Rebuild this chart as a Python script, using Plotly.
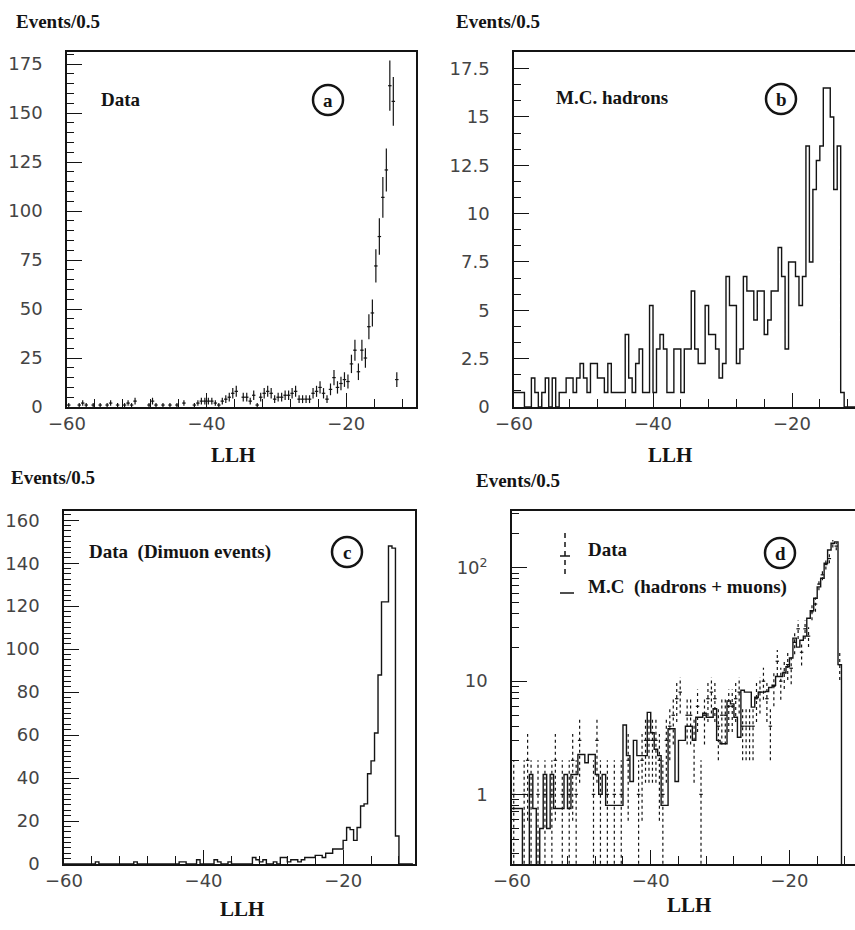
import numpy as np
import plotly.graph_objects as go

# ---------------- data (bins of 0.5 in LLH, from -60 to -10) ----------------
BIN_LO = -60.0
BIN_W = 0.5
N_BINS = 100

# (a) Data: events per bin
data_counts = [
    1, 0, 0, 1, 2, 1, 0, 1, 0, 1,
    0, 1, 2, 0, 1, 0, 1, 2, 1, 3,
    0, 0, 0, 1, 3, 1, 0, 1, 0, 1,
    0, 1, 0, 2, 0, 0, 1, 2, 3, 3,
    3, 3, 2, 1, 3, 4, 5, 7, 8, 0,
    5, 5, 3, 6, 1, 5, 7, 8, 7, 4,
    5, 5, 6, 6, 7, 8, 4, 4, 4, 4,
    7, 8, 10, 7, 4, 9, 15, 10, 12, 14,
    13, 22, 29, 18, 29, 25, 41, 48, 72, 87,
    107, 121, 164, 156, 14, 0, 0, 0, 0, 0,
]

# (b) M.C. hadrons
mc_hadrons = [
    0.75, 0.75, 0.75, 0, 0, 1.5, 0.75, 0, 0.75, 1.5,
    0, 1.5, 0, 0.75, 0.75, 1.5, 1.5, 0.75, 1.5, 2.25,
    1.5, 0.75, 2.25, 2.25, 1.5, 1.5, 0.75, 2.25, 0.75, 0.75,
    0.75, 0.75, 3.75, 1.5, 0.75, 2.25, 3, 0.75, 0.75, 5.25,
    0.75, 3, 3.75, 3, 0.75, 0.75, 3, 3, 0.75, 3,
    3, 6, 3, 2.25, 2.25, 5.25, 3.75, 3.75, 3, 1.5,
    2.25, 6.75, 5.25, 5.25, 2.25, 3, 6.75, 6, 6, 4.5,
    6, 6, 3.75, 4.5, 6, 6, 8.25, 6.75, 3, 7.5,
    7.5, 6.75, 5.25, 6.75, 13.5, 7.5, 11.25, 12.75, 13.5, 16.5,
    16.5, 15, 11.25, 13.5, 0.75, 0, 0, 0, 0, 0,
]

# (c) Data (dimuon events)
dimuon_counts = [
    0, 0, 0, 0, 0, 0, 0, 0, 0, 1,
    0, 0, 0, 0, 0, 0, 0, 0, 0, 0,
    1, 0, 0, 0, 0, 0, 0, 0, 0, 0,
    0, 0, 0, 1, 1, 0, 0, 0, 2, 0,
    0, 0, 0, 2, 1, 0, 0, 1, 0, 0,
    0, 0, 0, 0, 3, 2, 1, 2, 0, 0,
    1, 0, 3, 3, 1, 2, 2, 1, 2, 3,
    3, 3, 4, 4, 3, 5, 5, 7, 7, 7,
    11, 17, 16, 11, 17, 27, 28, 42, 48, 61,
    88, 122, 122, 148, 147, 13, 0, 0, 0, 0,
]

# (d) M.C. (hadrons + muons)
mc_total = [
    0.75, 0.75, 0.75, 0, 0, 1.5, 0.75, 0, 0.5, 1.5,
    0.5, 1.5, 0.75, 0.75, 0.75, 1.5, 0.75, 1.5, 1.5, 2.25,
    2.25, 1.9, 2.25, 2.25, 1.5, 1.0, 1.5, 0.8, 0.8, 0.8,
    0.8, 0.8, 4.1, 2.2, 1.3, 3.0, 2.2, 2.2, 2.2, 5.3,
    3.5, 2.5, 2.2, 0.8, 0.8, 3.8, 3.8, 1.3, 3.0, 3.0,
    4.0, 4.0, 3.0, 4.8, 4.8, 5.2, 4.8, 4.8, 5.7, 3.0,
    2.8, 2.8, 6.7, 6.3, 4.8, 3.2, 8.3, 8.0, 8.0, 5.9,
    7.2, 8.0, 8.0, 8.1, 8.8, 9.2, 11, 11, 11.8, 13.4,
    16, 24, 20, 23, 25, 36, 42, 54, 68, 81,
    110, 144, 165, 170, 14, 0, 0, 0, 0, 0,
]

x_major = [-60, -40, -20]
ya_ticks = [0, 25, 50, 75, 100, 125, 150, 175]
yb_ticks = [0, 2.5, 5, 7.5, 10, 12.5, 15, 17.5]
yb_text = ["0", "2.5", "5", "7.5", "10", "12.5", "15", "17.5"]
yc_ticks = [0, 20, 40, 60, 80, 100, 120, 140, 160]
yd_ticks = [1, 10, 100]
yd_text = ["1", "10", "10<sup>2</sup>"]

# ---------------- derived arrays ----------------
edges = BIN_LO + BIN_W * np.arange(N_BINS + 1)
centers = edges[:-1] + BIN_W / 2

W, H = 855, 930
def px(x):
    return x / W
def py(y):
    return 1 - y / H

INK = "#141414"
TICKFONT = dict(family="DejaVu Sans, sans-serif", size=18, color="#444444")
SERIF = "Liberation Serif, Times New Roman, serif"

fig = go.Figure()

def step_trace(vals, xa, ya, floor=None):
    v = np.array(vals, dtype=float)
    if floor is not None:
        v = np.where(v > 0, v, floor)
    yv = np.concatenate([v, [v[-1]]])
    return go.Scatter(x=edges, y=yv, mode="lines", line=dict(color=INK, width=1.4, shape="hv"),
                      xaxis=xa, yaxis=ya, showlegend=False, hoverinfo="skip")

def data_points(counts, xa, ya, dashed=False, floor=None):
    c = np.array(counts, dtype=float)
    m = c > 0
    xs, ys = centers[m], c[m]
    err = np.sqrt(ys)
    traces = []
    if not dashed:
        traces.append(go.Scatter(
            x=xs, y=ys, mode="markers", marker=dict(size=1, color=INK),
            error_x=dict(type="data", array=[BIN_W / 2] * len(xs), width=0, thickness=1.2, color=INK),
            error_y=dict(type="data", array=err, width=0, thickness=1.2, color=INK),
            xaxis=xa, yaxis=ya, showlegend=False, hoverinfo="skip"))
    else:
        vx, vy = [], []
        for x0, y0, e in zip(xs, ys, err):
            lo = y0 - e if y0 - e > 0 else floor
            vx += [x0, x0, None]
            vy += [lo, y0 + e, None]
        traces.append(go.Scatter(x=vx, y=vy, mode="lines",
                                 line=dict(color=INK, width=1.2, dash="3px,3px"),
                                 xaxis=xa, yaxis=ya, showlegend=False, hoverinfo="skip"))
        traces.append(go.Scatter(
            x=xs, y=ys, mode="markers", marker=dict(size=1, color=INK),
            error_x=dict(type="data", array=[BIN_W / 2] * len(xs), width=0, thickness=1.2, color=INK),
            xaxis=xa, yaxis=ya, showlegend=False, hoverinfo="skip"))
    return traces

# (a)
for t in data_points(data_counts, "x", "y"):
    fig.add_trace(t)
# (b)
fig.add_trace(step_trace(mc_hadrons, "x2", "y2"))
# (c)
fig.add_trace(step_trace(dimuon_counts, "x3", "y3"))
# (d)
fig.add_trace(step_trace(mc_total, "x4", "y4", floor=0.05))
for t in data_points(data_counts, "x4", "y4", dashed=True, floor=0.05):
    fig.add_trace(t)

def xaxis(domain, rng, anchor):
    return dict(domain=domain, range=rng, anchor=anchor, showline=True, linecolor=INK, linewidth=1.6,
                mirror=True, ticks="inside", ticklen=14, tickwidth=1.2, tickcolor=INK, automargin=False,
                tickvals=x_major, ticktext=["\u221260", "\u221240", "\u221220"],
                tickfont=TICKFONT, showgrid=False, zeroline=False, ticklabelstandoff=0,
                minor=dict(ticks="inside", ticklen=8, tickwidth=1.2, tickcolor=INK, dtick=4, tick0=-60, showgrid=False))

def yaxis(domain, rng, anchor, mirror, tickvals, ticktext, minor, typ="linear"):
    d = dict(domain=domain, range=rng, anchor=anchor, type=typ, showline=True, linecolor=INK, linewidth=1.6,
             mirror=mirror, ticks="inside", ticklen=15, tickwidth=1.2, tickcolor=INK, automargin=False,
             tickvals=tickvals, ticktext=ticktext, tickfont=TICKFONT, showgrid=False, zeroline=False,
             ticklabelstandoff=19, minor=dict(ticks="inside", ticklen=7, tickwidth=1.2, tickcolor=INK, showgrid=False, **minor))
    return d

top_dom = [py(407), py(52)]
bot_dom = [py(864), py(511)]

minor_log = [k * 10 ** e for e in (-1, 0, 1, 2) for k in range(2, 10)]

fig.update_layout(
    width=W, height=H, margin=dict(l=0, r=0, t=0, b=0, pad=0, autoexpand=False),
    paper_bgcolor="white", plot_bgcolor="white",
    xaxis=xaxis([px(67), px(416)], [-60, -10], "y"),
    yaxis=yaxis(top_dom, [0, 181.2], "x", True, ya_ticks, [str(v) for v in ya_ticks], dict(dtick=5, tick0=0)),
    xaxis2=xaxis([px(514), 1.0], [-60, -10.94], "y2"),
    yaxis2=yaxis(top_dom, [0, 18.36], "x2", False, yb_ticks, yb_text, dict(dtick=2.5 / 3, tick0=0)),
    xaxis3=xaxis([px(64), px(415)], [-60, -9.7], "y3"),
    yaxis3=yaxis(bot_dom, [0, 164.3], "x3", True, yc_ticks, [str(v) for v in yc_ticks], dict(dtick=2.5, tick0=0)),
    xaxis4=xaxis([px(512), 1.0], [-60, -10.55], "y4"),
    yaxis4=yaxis(bot_dom, [-0.615, 2.503], "x4", False, yd_ticks, yd_text, dict(tickvals=minor_log), typ="log"),
)

ann = []
def text(x, y, s, size=19, bold=True, anchor="left"):
    ann.append(dict(x=px(x), y=py(y), xref="paper", yref="paper", text=("<b>%s</b>" % s) if bold else s,
                    showarrow=False, xanchor=anchor, yanchor="middle",
                    font=dict(family=SERIF, size=size, color=INK)))

# "Events/0.5" labels
text(14, 21, "Events/0.5")
text(454, 21, "Events/0.5")
text(9, 477, "Events/0.5")
text(474, 480, "Events/0.5")
# LLH labels
text(233, 455, "LLH", size=21, anchor="center")
text(670, 455, "LLH", size=21, anchor="center")
text(242, 909, "LLH", size=21, anchor="center")
text(689, 905, "LLH", size=21, anchor="center")
# panel texts
text(99, 99, "Data")
text(554, 98, "M.C. hadrons")
text(87, 552, "Data\u2002(Dimuon events)")
text(586, 549, "Data")
text(586, 587, "M.C\u2002(hadrons + muons)")
# circled letters
circles = [(328, 100, "a"), (781, 99, "b"), (347, 552, "c"), (780, 553, "d")]
shapes = []
for cx, cy, s in circles:
    r = 15
    shapes.append(dict(type="circle", xref="paper", yref="paper", x0=px(cx - r), x1=px(cx + r),
                       y0=py(cy + r), y1=py(cy - r), line=dict(color=INK, width=2.5)))
    text(cx, cy, s, size=19, anchor="center")

# legend symbols in (d)
shapes.append(dict(type="line", xref="paper", yref="paper", x0=px(565), x1=px(565), y0=py(533), y1=py(577),
                   line=dict(color=INK, width=1.5, dash="5px,4px")))
shapes.append(dict(type="line", xref="paper", yref="paper", x0=px(560), x1=px(570), y0=py(556), y1=py(556),
                   line=dict(color=INK, width=1.5)))
shapes.append(dict(type="line", xref="paper", yref="paper", x0=px(560), x1=px(574), y0=py(593), y1=py(593),
                   line=dict(color=INK, width=1.5)))

fig.update_layout(annotations=ann, shapes=shapes)
fig.write_html("out.html")
